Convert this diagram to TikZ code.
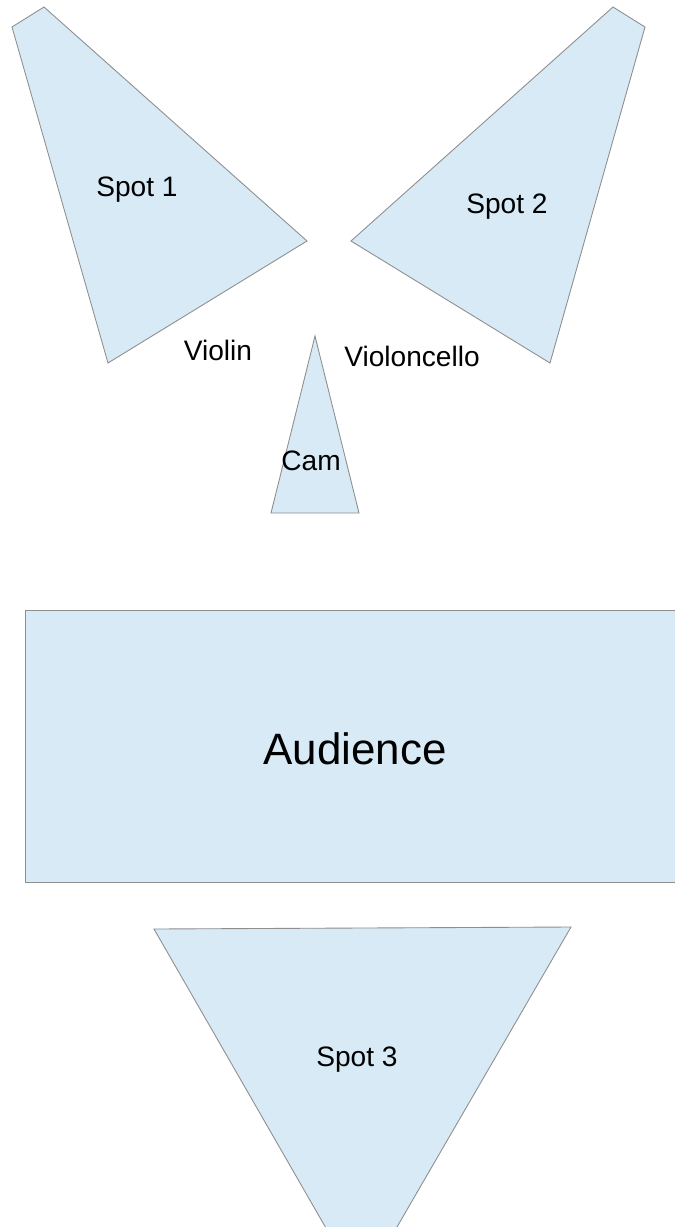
\documentclass[tikz,border=0pt]{standalone}
\usepackage{fontspec}
\setmainfont{Liberation Sans}
\definecolor{spotfill}{HTML}{D7EAF6}
\definecolor{spotline}{HTML}{8E8E8E}
\begin{document}
\begin{tikzpicture}[x=0.02cm, y=-0.02cm, area/.style={fill=spotfill, draw=spotline, line width=0.5pt}, every node/.style={font=\fontsize{16}{19}\selectfont, inner sep=0pt}]
	\useasboundingbox (0,0) rectangle (675,1227);
	
	% 1. Scheinwerfer und Kamera
	\filldraw[area] (12,27) -- (44,7) -- (307,241) -- (108,363) -- cycle;
	\filldraw[area] (613,7) -- (645,27) -- (550,363) -- (351,241) -- cycle;
	\filldraw[area] (315,336) -- (359,513) -- (271,513) -- cycle;
	\filldraw[area] (154,929) -- (571,927) -- (361,1289) -- cycle;
	
	% 2. Publikum (rechter Rand abgeschnitten)
	\filldraw[area] (25,610) rectangle (682,882);
	
	% 3. Beschriftungen
	\node (spot1) at (137,190) {Spot 1};
	\node (spot2) at (507,207) {Spot 2};
	\node (violin) at (218,350) {Violin};
	\node (cello) at (412,356) {Violoncello};
	\node (cam) at (311,461) {Cam};
	\node[font=\fontsize{25}{30}\selectfont] (audience) at (355,749) {Audience};
	\node (spot3) at (357,1060) {Spot 3};
\end{tikzpicture}
\end{document}
